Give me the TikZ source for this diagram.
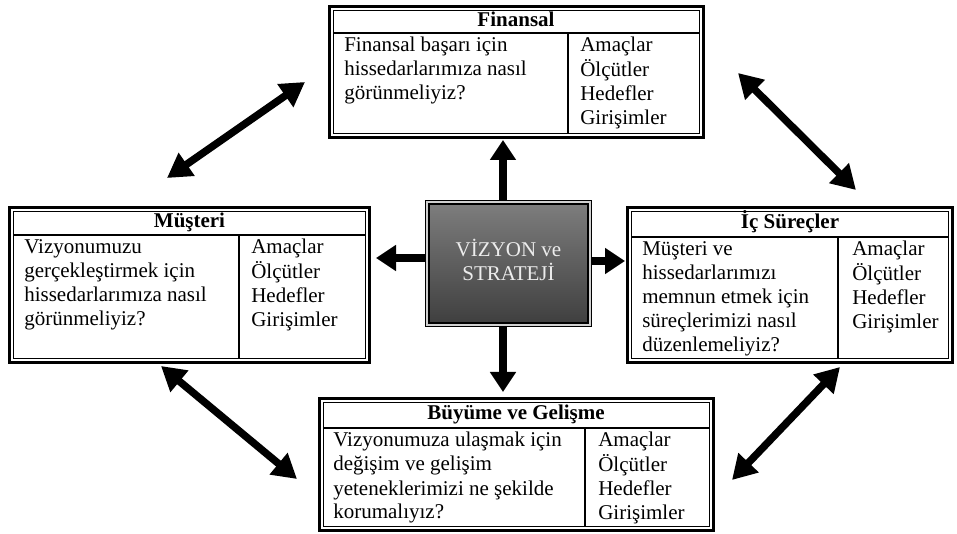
\documentclass[tikz,border=0pt]{standalone}
\usepackage{fontspec}
\setmainfont{Liberation Serif}
\usetikzlibrary{arrows.meta,fit}
\definecolor{vtop}{HTML}{7C7C7C}
\definecolor{vmid}{HTML}{B0B0B0}
\definecolor{vbot}{HTML}{404040}
\definecolor{vband}{HTML}{D0D0D0}
\definecolor{vtext}{HTML}{ECECEC}
\tikzset{
  outerb/.style={line width=2.25pt},
  innerb/.style={line width=0.8pt},
  colsep/.style={line width=1pt},
  bigarrow/.style={line width=6pt,-{Triangle[length=15pt,width=18.75pt]}},
  dblarrow/.style={line width=5.6pt,{Triangle[length=18pt,width=20pt]}-{Triangle[length=18pt,width=20pt]}},
  bodytext/.style={font=\fontsize{15.75}{18}\selectfont,anchor=base west,inner sep=0pt},
  headtext/.style={font=\bfseries\fontsize{15.75}{18}\selectfont,anchor=base,inner sep=0pt},
}
\newcommand\rows[1]{\begin{tabular}[t]{@{}l@{}}#1\end{tabular}}
% name, x1, y1, x2, y2, header y, divider x
\newcommand\bscbox[7]{%
  \coordinate (#1nw) at (#2,#3);
  \coordinate (#1se) at (#4,#5);
  \node[fit=(#1nw)(#1se),inner sep=0pt] (#1) {};
  \draw[outerb] (#1.north west) rectangle (#1.south east);
  \draw[innerb] ([shift={(3.8,3.8)}]#1.north west) rectangle ([shift={(-3.8,-3.8)}]#1.south east);
  \draw[innerb] (#2+3.8,#6) -- (#4-3.8,#6);
  \draw[colsep] (#7,#6) -- (#7,#5-3.8);
}
\begin{document}
\begin{tikzpicture}[x=0.75pt,y=-0.75pt]
\useasboundingbox (0,0) rectangle (957,534);
\fill[white] (0,0) rectangle (957,534);

% Finansal
\bscbox{fin}{330}{7}{703}{137}{33}{568}
\node[headtext] (finh) at (516,27) {Finansal};
\node[bodytext] (finq) at (344,52) {\rows{Finansal başarı için\\hissedarlarımıza nasıl\\görünmeliyiz?}};
\node[bodytext] (fina) at (580,52) {\rows{Amaçlar\\Ölçütler\\Hedefler\\Girişimler}};

% Müşteri
\bscbox{mus}{10}{208}{369}{362}{235}{239}
\node[headtext] (mush) at (189.5,228) {Müşteri};
\node[bodytext] (musq) at (24,254) {\rows{Vizyonumuzu\\gerçekleştirmek için\\hissedarlarımıza nasıl\\görünmeliyiz?}};
\node[bodytext] (musa) at (251,254) {\rows{Amaçlar\\Ölçütler\\Hedefler\\Girişimler}};

% İç Süreçler
\bscbox{ic}{628}{208}{952}{362}{237}{838}
\node[headtext] (ich) at (790,229) {İç Süreçler};
\node[bodytext] (icq) at (642,256) {\rows{Müşteri ve\\hissedarlarımızı\\memnun etmek için\\süreçlerimizi nasıl\\düzenlemeliyiz?}};
\node[bodytext] (ica) at (852,256) {\rows{Amaçlar\\Ölçütler\\Hedefler\\Girişimler}};

% Büyüme ve Gelişme
\bscbox{buy}{320}{399}{713}{530}{428}{585}
\node[headtext] (buyh) at (516,420) {Büyüme ve Gelişme};
\node[bodytext] (buyq) at (333,447) {\rows{Vizyonumuza ulaşmak için\\değişim ve gelişim\\yeteneklerimizi ne şekilde\\korumalıyız?}};
\node[bodytext] (buya) at (598,447) {\rows{Amaçlar\\Ölçütler\\Hedefler\\Girişimler}};

% Vizyon box
\coordinate (vnw) at (425,200);
\coordinate (vse) at (592,327);
\node[fit=(vnw)(vse),inner sep=0pt] (viz) {};
\fill[black] (viz.north west) rectangle (viz.south east);
\fill[vband] ([shift={(1.5,1.5)}]viz.north west) rectangle ([shift={(-1.5,-1.5)}]viz.south east);
\fill[black] ([shift={(3.5,3.5)}]viz.north west) rectangle ([shift={(-3.5,-3.5)}]viz.south east);
\shade[top color=vtop,middle color=vmid,bottom color=vbot] ([shift={(5.5,5.5)}]viz.north west) rectangle ([shift={(-5.5,-5.5)}]viz.south east);
\node[font=\fontsize{15.75}{18}\selectfont,text=vtext,inner sep=0pt] (vizt) at (viz.center) {\begin{tabular}{@{}c@{}}VİZYON ve\\STRATEJİ\end{tabular}};

% central arrows
\coordinate (upTip) at (503,140);
\coordinate (dnTip) at (503,392);
\coordinate (lfTip) at (376,258);
\coordinate (rtTip) at (625,261);
\draw[bigarrow] (viz.north -| upTip) -- (upTip);
\draw[bigarrow] (viz.south -| dnTip) -- (dnTip);
\draw[bigarrow] (viz.west |- lfTip) -- (lfTip);
\draw[bigarrow] (viz.east |- rtTip) -- (rtTip);

% diagonal arrows
\coordinate (nwA) at (167,178);
\coordinate (nwB) at (305,82);
\coordinate (neA) at (738,73);
\coordinate (neB) at (856,190);
\coordinate (swA) at (161,366);
\coordinate (swB) at (297,479);
\coordinate (seA) at (840,367);
\coordinate (seB) at (732,480);
\draw[dblarrow] (nwA) -- (nwB);
\draw[dblarrow] (neA) -- (neB);
\draw[dblarrow] (swA) -- (swB);
\draw[dblarrow] (seA) -- (seB);
\end{tikzpicture}
\end{document}
